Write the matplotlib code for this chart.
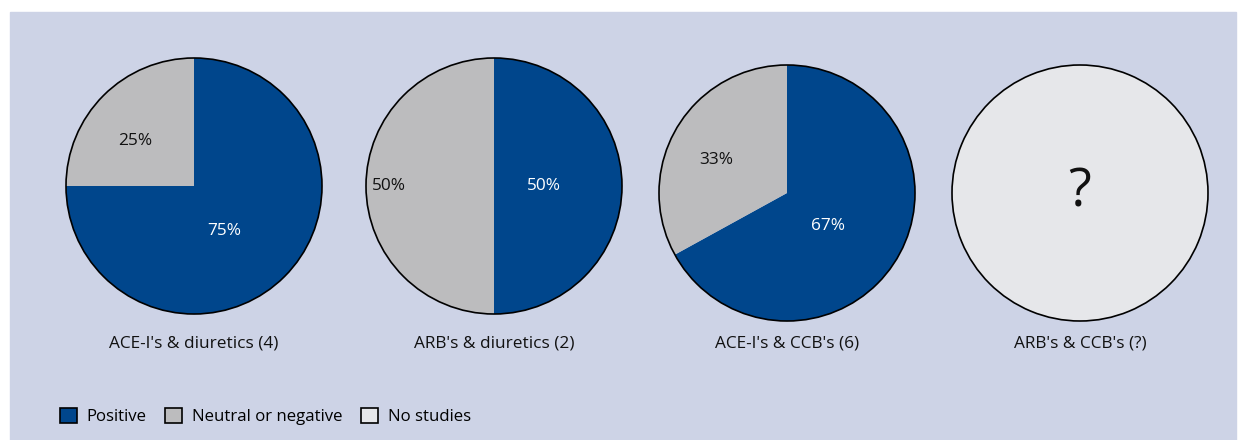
import matplotlib.pyplot as plt
from matplotlib.patches import Rectangle, Patch

plt.rcParams['font.family'] = ['Open Sans', 'DejaVu Sans']

# data
titles = ["ACE-I's & diuretics (4)", "ARB's & diuretics (2)",
          "ACE-I's & CCB's (6)", "ARB's & CCB's (?)"]
positive = [75, 50, 67, None]
neutral = [25, 50, 33, None]
legend_labels = ["Positive", "Neutral or negative", "No studies"]

blue = '#00468c'
grey = '#bcbcbe'
light = '#e6e7ea'
panel = '#cdd3e6'

# layout (pixels)
centers = [(194, 186), (494, 186), (787, 193), (1080, 193)]
R = 128
# label offsets from centre, in radius units: (positive, neutral)
label_off = [((0.24, 0.35), (-0.46, -0.35)),
             ((0.39, 0.0), (-0.82, 0.0)),
             ((0.32, 0.26), (-0.55, -0.26))]
fs = 12.4

fig = plt.figure(figsize=(12.46, 4.4), dpi=100)
ax = fig.add_axes([0, 0, 1, 1])

ax.add_patch(Rectangle((10, 12), 1226, 440, color=panel, zorder=0))

for i, (cx, cy) in enumerate(centers):
    if positive[i] is None:
        ax.pie([1], colors=[light], center=(cx, cy), radius=R,
               wedgeprops=dict(edgecolor='black', linewidth=1.2), frame=True)
        ax.text(cx, cy, '?', fontsize=38, ha='center', va='center', color='#111111')
    else:
        vals = [positive[i], neutral[i]]
        # y axis is flipped, so counterclock from -90 reads clockwise from the top
        ax.pie(vals, colors=[blue, grey], center=(cx, cy), radius=R,
               startangle=-90, counterclock=True, frame=True,
               wedgeprops=dict(linewidth=0))
        for v, col, (dx, dy) in zip(vals, ['white', '#111111'], label_off[i]):
            ax.text(cx + dx * R, cy + dy * R, f'{v}%', color=col, fontsize=fs,
                    ha='center', va='center')
        ax.add_patch(plt.Circle((cx, cy), R, fill=False, edgecolor='black', linewidth=1.2))
    ax.text(cx, 343, titles[i], fontsize=fs, ha='center', va='center', color='#111111')

ax.set_xlim(0, 1246)
ax.set_ylim(440, 0)
ax.set_aspect('equal')
ax.axis('off')

handles = [Patch(facecolor=c, edgecolor='black', linewidth=1.2) for c in [blue, grey, light]]
ax.legend(handles, legend_labels, ncol=3, frameon=False, fontsize=12.1,
          loc='lower left', bbox_to_anchor=(48 / 1246, 3 / 440),
          bbox_transform=fig.transFigure,
          handlelength=1.0, handleheight=1.0, handletextpad=0.6,
          columnspacing=1.1, borderpad=0.2)

fig.savefig('out.png', dpi=100, facecolor='white')
